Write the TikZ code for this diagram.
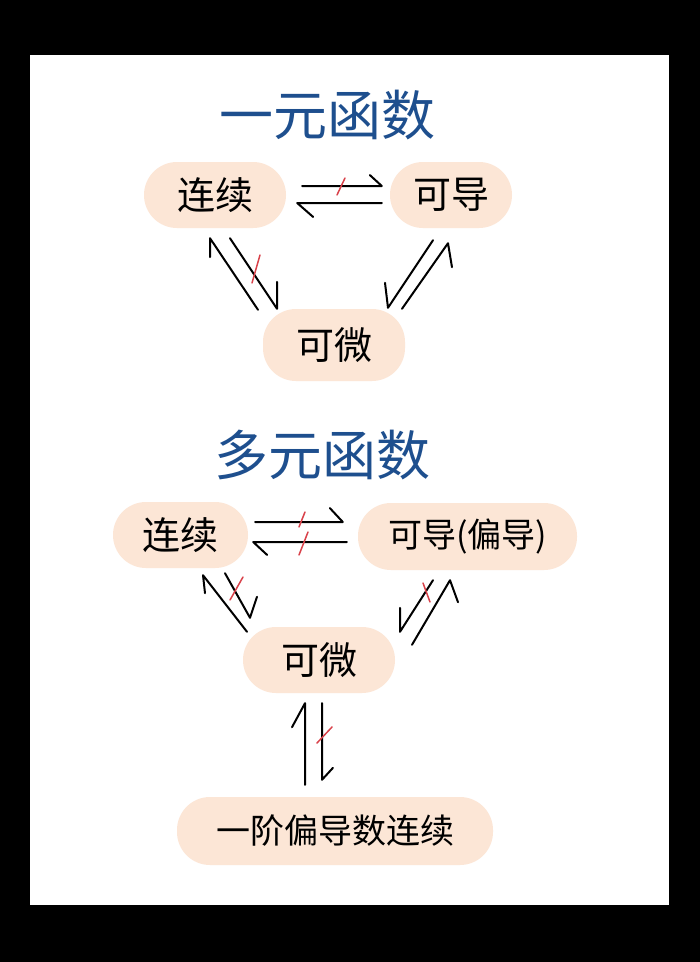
\documentclass[tikz,border=0pt]{standalone}
\usepackage{fontspec}
\newfontfamily\cjk{Noto Sans CJK SC}
\definecolor{peach}{HTML}{FCE6D6}
\definecolor{titleblue}{HTML}{1E4F8E}
\definecolor{crossred}{HTML}{D9424A}
\begin{document}
\begin{tikzpicture}[x=1pt,y=-1pt,
  pill/.style={fill=peach, rounded corners=33pt, inner sep=0pt, minimum height=66pt,
    font=\cjk\fontsize{38}{38}\selectfont},
  smallpill/.style={pill, font=\cjk\fontsize{34}{34}\selectfont},
  titletext/.style={text=titleblue, inner sep=0pt, font=\cjk\fontsize{54}{54}\selectfont},
  conn/.style={draw=black, line width=2pt, line cap=round, line join=round},
  crossmark/.style={draw=crossred, line width=1.5pt, line cap=round}]
\useasboundingbox (0,0) rectangle (700,962);
\fill[black] (0,0) rectangle (700,962);
\fill[white] (30,55) rectangle (669,905);

% ---- one variable ----
\node[titletext] (t1) at (327,115) {一元函数};
\node[pill, minimum width=142pt] (c1) at (215,195) {连续};
\node[pill, minimum width=122pt] (d1) at (451,195) {可导};
\node[pill, minimum width=142pt, minimum height=72pt] (w1) at (334,345) {可微};

\draw[conn] ([shift={(16,-9)}]c1.east) -- ([shift={(-8,-9)}]d1.west) -- ++(-12,-11);
\draw[crossmark] (337,195) -- (345,178);
\draw[conn] ([shift={(-8,8)}]d1.west) -- ([shift={(11,8)}]c1.east) -- ++(16,14);

\draw[conn] ([shift={(-76,1)}]w1.north) -- ([shift={(-5,10)}]c1.south) -- ++(0,19);
\draw[conn] ([shift={(15,10)}]c1.south) -- ([shift={(-57,0)}]w1.north) -- ++(0,-27);
\draw[crossmark] (252,283) -- (260,255);

\draw[conn] ([shift={(-18,12)}]d1.south) -- ([shift={(54,-1)}]w1.north) -- ++(-3,-25);
\draw[conn] ([shift={(68,0)}]w1.north) -- ([shift={(-3,15)}]d1.south) -- ++(4,24);

% ---- several variables ----
\node[titletext] (t2) at (322,455) {多元函数};
\node[pill, minimum width=135pt] (c2) at (180.5,535) {连续};
\node[smallpill, minimum width=219pt, minimum height=67pt] (d2) at (467.5,536.5) {可导(偏导)};
\node[pill, minimum width=152pt] (w2) at (319,660) {可微};
\node[smallpill, minimum width=316pt, minimum height=68pt] (p) at (335,831) {一阶偏导数连续};

\draw[conn] ([shift={(7,-13)}]c2.east) -- ([shift={(-15,-14.5)}]d2.west) -- ++(-13,-14);
\draw[crossmark] (299,527) -- (305,512);
\draw[conn] ([shift={(-11,5.5)}]d2.west) -- ([shift={(5,7)}]c2.east) -- ++(14,13);
\draw[crossmark] (299,555) -- (308,532);

\draw[conn] ([shift={(-72,5)}]w2.north) -- ([shift={(22.5,7)}]c2.south) -- ++(2,18);
\draw[conn] ([shift={(44.5,5)}]c2.south) -- ([shift={(-69,-9)}]w2.north) -- ++(7,-21);
\draw[crossmark] (230,600) -- (243,577);

\draw[conn] ([shift={(-34.5,10)}]d2.south) -- ([shift={(81,5)}]w2.north) -- ++(0,-24);
\draw[crossmark] (423,583) -- (430,602);
\draw[conn] ([shift={(93,18)}]w2.north) -- ([shift={(-17.5,10)}]d2.south) -- ++(8,22);

\draw[conn] ([shift={(-30,-12)}]p.north) -- ([shift={(-14,10)}]w2.south) -- ++(-13,24);
\draw[conn] ([shift={(3,10)}]w2.south) -- ([shift={(-13,-17)}]p.north) -- ++(11,-12);
\draw[crossmark] (317,743) -- (332,727);
\end{tikzpicture}
\end{document}
